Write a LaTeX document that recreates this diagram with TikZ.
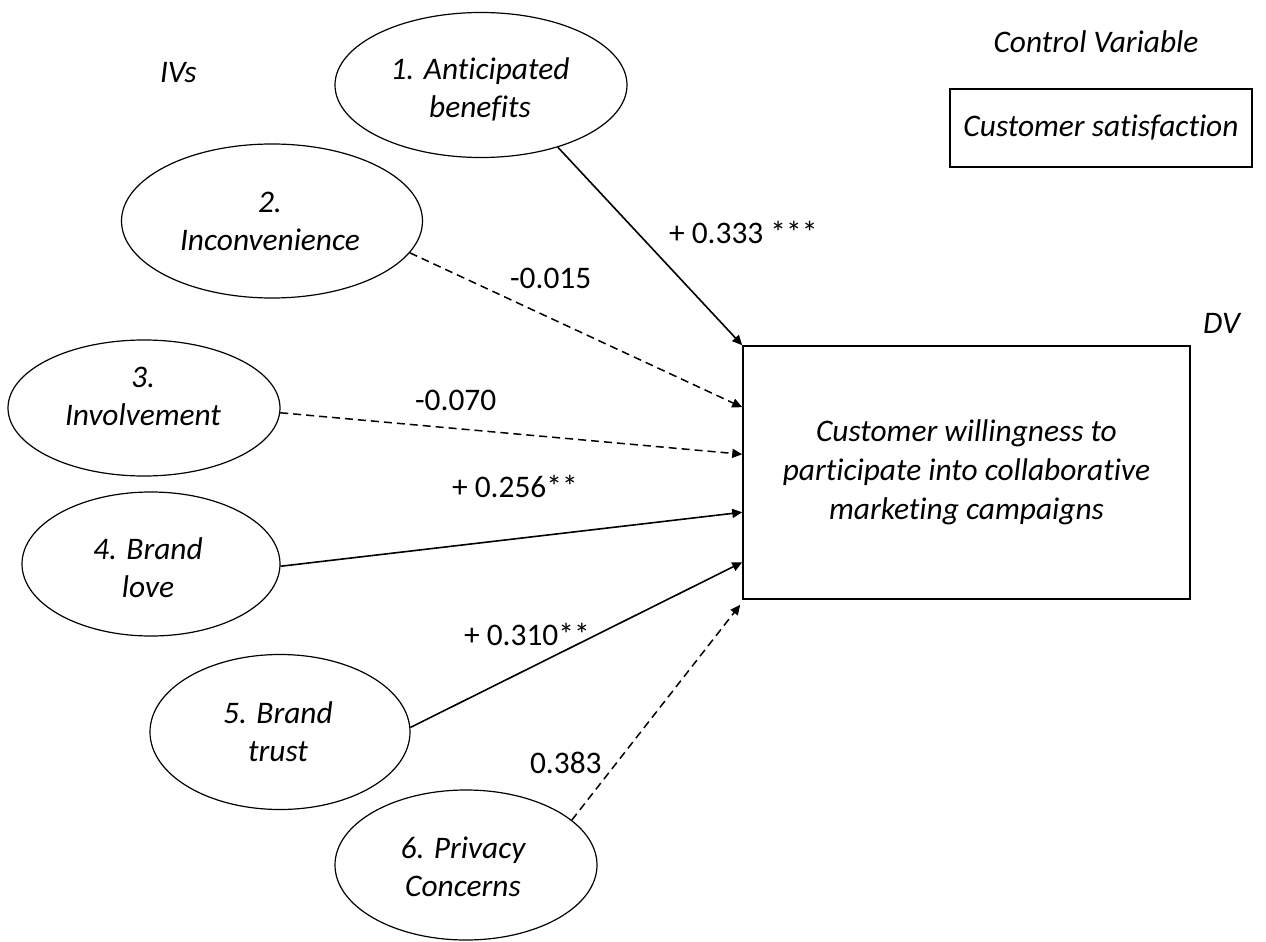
\documentclass[tikz,border=0pt]{standalone}
\usepackage{fontspec}
\setmainfont{Carlito}[Ligatures=NoCommon]
\usetikzlibrary{arrows.meta,shapes.geometric,calc}
\begin{document}
\begin{tikzpicture}[x=0.5pt,y=-0.5pt,
  every node/.style={font=\fontsize{15.7}{19}\selectfont},
  ivshape/.style={draw,ellipse,line width=0.6pt,inner sep=0pt},
  ivtext/.style={align=center,font=\fontsize{15.7}{19}\selectfont\itshape},
  boxnode/.style={draw,rectangle,line width=0.75pt,inner sep=0pt,align=center,
    font=\fontsize{15.7}{19.5}\selectfont\itshape},
  heading/.style={font=\fontsize{15.7}{19}\selectfont\itshape},
  coef/.style={anchor=base west},
  sig/.style={line width=0.8pt,-{Triangle[length=5pt,width=4.5pt]}},
  nonsig/.style={sig,line width=0.75pt,dash pattern=on 4pt off 2.5pt}
]
\useasboundingbox (0,0) rectangle (1266,942);

% independent variables
\node[ivshape,minimum width=146pt,minimum height=72.5pt] (e1) at (481,85) {};
\node[ivtext] (e1t) at (480,89) {1. Anticipated\\benefits};
\node[ivshape,minimum width=150.5pt,minimum height=77pt] (e2) at (272,221) {};
\node[ivtext] (e2t) at (270,221) {2.\\Inconvenience};
\node[ivshape,minimum width=136pt,minimum height=68pt] (e3) at (144,408) {};
\node[ivtext] (e3t) at (143,396) {3.\\Involvement};
\node[ivshape,minimum width=129pt,minimum height=72pt] (e4) at (151,564) {};
\node[ivtext] (e4t) at (148,568) {4. Brand\\love};
\node[ivshape,minimum width=130pt,minimum height=77.5pt] (e5) at (280,732) {};
\node[ivtext] (e5t) at (278,732) {5. Brand\\trust};
\node[ivshape,minimum width=131pt,minimum height=75pt] (e6) at (466,865) {};
\node[ivtext] (e6t) at (463,867) {6. Privacy\\Concerns};

% dependent variable and control variable
\node[boxnode,minimum width=223.5pt,minimum height=126.5pt] (dv) at (966.5,472.5)
  {Customer willingness to\\participate into collaborative\\marketing campaigns};
\node[boxnode,minimum width=151pt,minimum height=39pt] (cs) at (1101,128)
  {Customer satisfaction};

% headings
\node[heading,anchor=base west] (ivs) at (153,83) {IVs};
\node[heading,anchor=base] (ctl) at (1096,53) {Control Variable};
\node[heading,anchor=base west] (dvh) at (1196,333) {DV};

% arrow targets on the left side of the outcome box
\coordinate (t2) at ($(dv.north west)+(0,62)$);
\coordinate (t3) at ($(dv.north west)+(0,109)$);
\coordinate (t4) at ($(dv.north west)+(0,167)$);
\coordinate (t5) at ($(dv.north west)+(0,217)$);
\coordinate (t6) at ($(dv.south west)+(-2,5)$);

% paths
\draw[sig] (e1.-39) -- (dv.north west);
\draw[nonsig] (e2.-13) -- (t2);
\draw[nonsig] (e3.-2.5) -- (t3);
\draw[sig] (e4.-1) -- (t4);
\draw[sig] (e5.2.7) -- (t5);
\draw[nonsig] (e6.23.6) -- (t6);

% coefficients
\node[coef] (c1) at (662,243) {+ 0.333 ***};
\node[coef] (c2) at (503,288) {-0.015};
\node[coef] (c3) at (408,410) {-0.070};
\node[coef] (c4) at (445,497) {+ 0.256**};
\node[coef] (c5) at (457,645) {+ 0.310**};
\node[coef] (c6) at (523,773) {0.383};
\end{tikzpicture}
\end{document}
